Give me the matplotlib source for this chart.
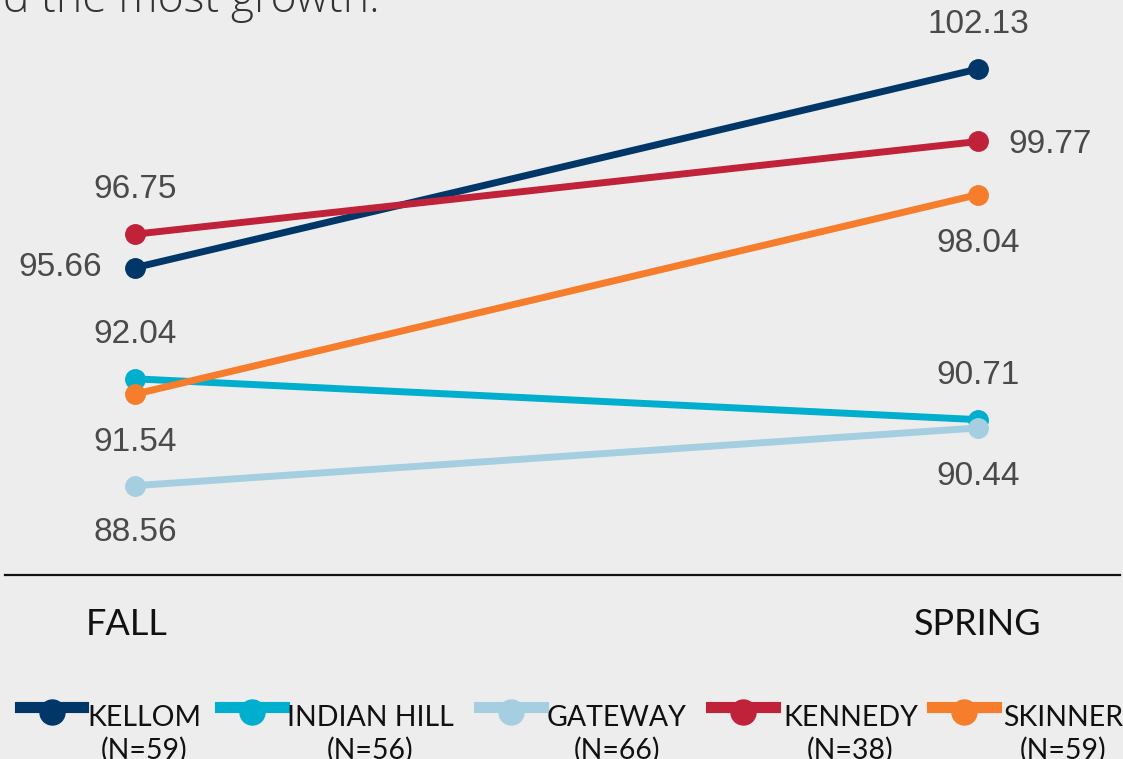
import matplotlib.pyplot as plt
from matplotlib.lines import Line2D
from matplotlib.transforms import ScaledTranslation

# Average scores per school, fall and spring
terms = ['FALL', 'SPRING']
schools = ['KELLOM', 'INDIAN HILL', 'GATEWAY', 'KENNEDY', 'SKINNER']
counts = [59, 56, 66, 38, 59]
fall = [95.66, 92.04, 88.56, 96.75, 91.54]
spring = [102.13, 90.71, 90.44, 99.77, 98.04]
colors = ['#003768', '#00aecd', '#a5cfe1', '#c0223a', '#f57d2b']

# label offsets (points) for each value: (dx, dy, ha)
fall_offsets = [(-24, 0, 'right'), (0, 32, 'center'), (0, -34, 'center'),
                (0, 32, 'center'), (0, -35, 'center')]
spring_offsets = [(0, 32, 'center'), (0, 32, 'center'), (0, -35, 'center'),
                  (22, -2, 'left'), (0, -35, 'center')]

W, H = 1123, 759
bg = '#ededed'
fig = plt.figure(figsize=(W / 100, H / 100), dpi=100, facecolor=bg)
ax = fig.add_axes([5 / W, (H - 575) / H, 1115 / W, 575 / H])
ax.set_facecolor(bg)

x = [0, 1]
for i, name in enumerate(schools):
    ax.plot(x, [fall[i], spring[i]], color=colors[i], lw=5,
            marker='o', markersize=14, solid_capstyle='round', zorder=3)
    for xi, val, off in ((0, fall[i], fall_offsets[i]),
                         (1, spring[i], spring_offsets[i])):
        dx, dy, ha = off
        ax.annotate(f'{val:.2f}', (xi, val), xytext=(dx, dy),
                    textcoords='offset points', ha=ha, va='center',
                    fontsize=24, color='#4a4a4a', family='Liberation Sans')

ax.set_xlim(-0.1542, 1.1685)
ax.set_ylim(85.65, 104.378)
ax.set_yticks([])
ax.set_xticks(x)
ax.set_xticklabels(terms, fontsize=26, family='Lato', color='#111111')
ax.tick_params(axis='x', length=0, pad=24)
# nudge the FALL label a little to the left
fall_label = ax.get_xticklabels()[0]
fall_label.set_transform(fall_label.get_transform()
                         + ScaledTranslation(-0.08, 0, fig.dpi_scale_trans))
for side in ('top', 'left', 'right'):
    ax.spines[side].set_visible(False)
ax.spines['bottom'].set_linewidth(1.6)
ax.spines['bottom'].set_color('#111111')

# cut-off heading line at the top
fig.text(380 / W, 1 - 12 / H, 'showed the most growth.', ha='right',
         va='baseline', fontsize=32, family='Open Sans', fontweight='light',
         color='#333333')

# legend drawn along the bottom
handle_x = [(20, 83), (220, 284), (479, 543), (711, 775), (932, 996)]
text_x = [87, 287, 547, 783, 1003]
for i, name in enumerate(schools):
    x0, x1 = handle_x[i]
    fig.add_artist(Line2D([x0 / W, x1 / W], [1 - 707 / H] * 2,
                          transform=fig.transFigure, color=colors[i], lw=8))
    fig.add_artist(Line2D([(x0 + x1) / 2 / W], [1 - 712 / H],
                          transform=fig.transFigure, color=colors[i],
                          marker='o', markersize=18, lw=0))
    fig.text(text_x[i] / W, 1 - 705 / H, f'{name}\n(N={counts[i]})',
             ha='left', va='top', multialignment='center', fontsize=20.5,
             family='Lato', color='#111111', linespacing=1.25)

fig.savefig('out.png', dpi=100, facecolor=bg)
